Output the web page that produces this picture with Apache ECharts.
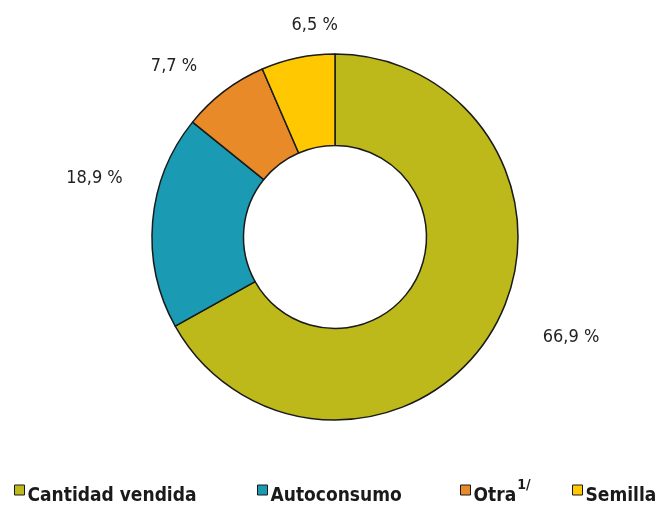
<!DOCTYPE html>
<html>
<head>
<meta charset="utf-8">
<script src="https://cdn.jsdelivr.net/npm/echarts@6/dist/echarts.min.js"></script>
<style>
html, body { margin: 0; background: #fff; }
#chart { width: 664px; height: 506px; }
</style>
</head>
<body>
<div id="chart"></div>
<script>
// datos
const categories = ['Cantidad vendida', 'Autoconsumo', 'Otra', 'Semilla'];
const shares = [66.9, 18.9, 7.7, 6.5];
const colors = ['#bdb91b', '#1b9ab3', '#e88a27', '#ffc800'];

// ajustes de etiquetas respecto a la posicion "outside" de ECharts
const labelShift = [[17, 0], [5, -42], [2, -13], [63, -18]];
const legendLeft = [14, 257, 460, 572];

const FONT = '"Liberation Sans Narrow", "DejaVu Sans Condensed", sans-serif';

const chart = echarts.init(document.getElementById('chart'));

const legends = categories.map((name, i) => ({
  data: [name],
  left: legendLeft[i],
  top: 474,
  padding: 0,
  icon: 'rect',
  itemWidth: 10,
  itemHeight: 10,
  itemGap: 0,
  selectedMode: false,
  itemStyle: { borderColor: '#1a1a1a', borderWidth: 1 },
  formatter: n => n === 'Otra' ? '{b|Otra}{sup|1/}' : '{b|' + n + '}',
  textStyle: {
    fontFamily: FONT,
    fontSize: 19,
    fontWeight: 'bold',
    color: '#1a1a1a',
    padding: [0, 0, 0, -2],
    rich: {
      b: { fontFamily: FONT, fontSize: 19, fontWeight: 'bold', color: '#1a1a1a', lineHeight: 22, padding: [13, 0, 0, 0] },
      sup: { fontFamily: FONT, fontSize: 14, fontWeight: 'bold', color: '#1a1a1a', lineHeight: 22, padding: [0, 0, 9, 1] }
    }
  }
}));

chart.setOption({
  animation: false,
  color: colors,
  legend: legends,
  series: [{
    type: 'pie',
    center: [335, 237],
    radius: [91.5, 183],
    startAngle: 90,
    clockwise: true,
    avoidLabelOverlap: false,
    itemStyle: { borderColor: '#1a1a1a', borderWidth: 1.5 },
    label: {
      show: true,
      position: 'outside',
      fontFamily: FONT,
      fontSize: 18,
      color: '#222',
      formatter: p => p.value.toFixed(1).replace('.', ',') + ' %'
    },
    labelLine: { show: false, length: 15, length2: 15 },
    labelLayout: p => {
      const s = labelShift[p.dataIndex];
      return { dx: s[0], dy: s[1] };
    },
    emphasis: { disabled: true },
    data: categories.map((name, i) => ({ name: name, value: shares[i] }))
  }]
});
</script>
</body>
</html>
